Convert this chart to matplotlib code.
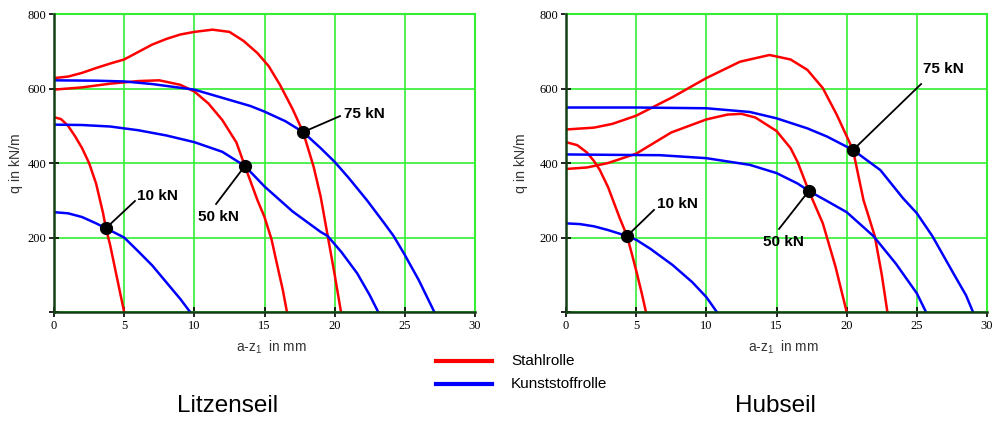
import matplotlib.pyplot as plt

plt.rcParams['font.family'] = ['Liberation Sans', 'DejaVu Sans']
plt.rcParams['mathtext.fontset'] = 'custom'
plt.rcParams['mathtext.rm'] = 'Liberation Sans'

# ---- Litzenseil: Stahlrolle (rot)
litz_st10_x = [0, 0.5, 1, 1.5, 2, 2.5, 3, 3.5, 3.7, 4, 4.5, 5]
litz_st10_q = [523, 518, 500, 472, 440, 400, 345, 265, 225, 180, 90, 0]
litz_st50_x = [0, 2, 4, 6, 7.5, 9, 10, 11, 12, 13, 13.6, 14.5, 15, 15.5, 16, 16.3, 16.6]
litz_st50_q = [597, 603, 613, 620, 622, 610, 592, 560, 515, 455, 392, 300, 255, 195, 110, 60, 0]
litz_st75_x = [0, 1, 2, 3, 4, 5, 6, 7, 8, 9, 10, 11.3, 12.5, 13.5, 14.5, 15.3, 16.1, 17, 17.75,
               18.5, 19, 19.5, 20, 20.45]
litz_st75_q = [628, 632, 642, 655, 667, 678, 698, 718, 733, 745, 752, 758, 752, 728, 695, 660, 610,
               545, 483, 390, 310, 205, 100, 0]
# ---- Litzenseil: Kunststoffrolle (blau)
litz_ku10_x = [0, 1, 2, 3, 3.7, 5, 6, 7, 8, 9, 9.7]
litz_ku10_q = [268, 265, 255, 238, 225, 200, 163, 125, 80, 35, 0]
litz_ku50_x = [0, 2, 4, 6, 8, 10, 12, 13.6, 15, 17, 19, 19.5, 20.5, 21.6, 22.5, 23.1]
litz_ku50_q = [503, 502, 498, 488, 474, 456, 430, 392, 337, 270, 215, 204, 160, 104, 45, 0]
litz_ku75_x = [0, 3, 5, 7, 10, 12, 14, 15, 16.5, 17.75, 19, 20, 21, 22.3, 23.5, 24.2, 25, 26, 27.1]
litz_ku75_q = [622, 621, 619, 612, 597, 575, 553, 538, 512, 483, 440, 403, 360, 300, 240, 204,
               153, 85, 0]

# ---- Hubseil: Stahlrolle
hub_st10_x = [0, 0.8, 1.5, 2, 2.4, 3, 3.35, 3.8, 4.35, 4.7, 5.05, 5.4, 5.7]
hub_st10_q = [456, 448, 428, 405, 382, 335, 300, 255, 204, 155, 104, 50, 0]
hub_st50_x = [0, 1.5, 3, 5, 7.5, 10, 11.5, 12.5, 13.5, 15, 16, 16.5, 17.3, 18.3, 19.2, 20]
hub_st50_q = [384, 388, 400, 425, 482, 517, 530, 532, 522, 486, 440, 403, 325, 238, 122, 0]
hub_st75_x = [0, 2, 3.3, 5, 7.6, 10, 12.4, 14.5, 16, 17.2, 18.3, 19.3, 20.45, 21.2, 22, 22.5, 22.9]
hub_st75_q = [490, 495, 505, 527, 577, 628, 672, 690, 678, 650, 601, 529, 435, 300, 204, 100, 0]
# ---- Hubseil: Kunststoffrolle
hub_ku10_x = [0, 1, 2, 3, 4.35, 5, 6, 7.6, 9, 10, 10.75]
hub_ku10_q = [238, 236, 230, 220, 204, 194, 170, 126, 80, 40, 0]
hub_ku50_x = [0, 3, 6.7, 10, 13.1, 15, 16.5, 17.3, 18.5, 20, 21.9, 23.5, 25, 25.65]
hub_ku50_q = [423, 422, 421, 413, 395, 373, 345, 325, 300, 268, 204, 130, 50, 0]
hub_ku75_x = [0, 5, 10, 13.1, 15, 17.2, 18.6, 20.45, 22.4, 24, 25, 26.1, 27.6, 28.5, 29]
hub_ku75_q = [549, 549, 547, 537, 520, 493, 471, 435, 381, 306, 265, 204, 104, 45, 0]

# Schnittpunkte (Markierungen) und Lastbeschriftungen
loads = ['10 kN', '50 kN', '75 kN']
litz_pt_x = [3.7, 13.6, 17.75]
litz_pt_q = [225, 392, 483]
hub_pt_x = [4.35, 17.3, 20.45]
hub_pt_q = [204, 325, 435]
# Ende der Hinweislinie und Textposition
litz_lead = [(5.77, 298), (11.55, 290), (20.38, 526)]
litz_txt = [(5.91, 311), (10.26, 254), (20.67, 532)]
hub_lead = [(6.27, 274), (15.18, 223), (25.3, 612)]
hub_txt = [(6.49, 290), (14.04, 187), (25.45, 652)]

red = '#ff0000'
blue = '#0000ff'
green = '#33ee33'

fig = plt.figure(figsize=(9.94, 4.21), dpi=100)
ax1 = fig.add_axes([0.0543, 0.2589, 0.4236, 0.7078])
ax2 = fig.add_axes([0.5694, 0.2589, 0.4236, 0.7078])


def setup(ax, ylab_x):
    ax.set_xlim(0, 30)
    ax.set_ylim(0, 800)
    ax.set_xticks(range(0, 31, 5))
    ax.set_yticks([0, 200, 400, 600, 800])
    ax.set_yticklabels(['', '200', '400', '600', '800'])
    ax.grid(True, color=green, lw=1.2)
    ax.set_axisbelow(True)
    for s in ['top', 'right']:
        ax.spines[s].set_color(green)
        ax.spines[s].set_linewidth(1.5)
    for s in ['left', 'bottom']:
        ax.spines[s].set_color('#124012')
        ax.spines[s].set_linewidth(1.8)
        ax.spines[s].set_zorder(4)
    ax.tick_params(direction='inout', length=7, width=1.2, color='black', pad=2)
    for lab in ax.get_xticklabels() + ax.get_yticklabels():
        lab.set_family('Liberation Serif')
        lab.set_fontsize(9)
    ax.set_xlabel(r'a-z$_1$  in mm', fontsize=9.8, color='#333333')
    ax.xaxis.set_label_coords(0.515, -0.088)
    ax.set_ylabel('q in kN/m', fontsize=10.2, color='#333333')
    ax.yaxis.set_label_coords(ylab_x, 0.5)


setup(ax1, -0.074)
setup(ax2, -0.09)

ax1.plot(litz_st10_x, litz_st10_q, color=red, lw=1.8)
ax1.plot(litz_st50_x, litz_st50_q, color=red, lw=1.8)
ax1.plot(litz_st75_x, litz_st75_q, color=red, lw=1.8)
ax1.plot(litz_ku10_x, litz_ku10_q, color=blue, lw=1.8)
ax1.plot(litz_ku50_x, litz_ku50_q, color=blue, lw=1.8)
ax1.plot(litz_ku75_x, litz_ku75_q, color=blue, lw=1.8)

ax2.plot(hub_st10_x, hub_st10_q, color=red, lw=1.8)
ax2.plot(hub_st50_x, hub_st50_q, color=red, lw=1.8)
ax2.plot(hub_st75_x, hub_st75_q, color=red, lw=1.8)
ax2.plot(hub_ku10_x, hub_ku10_q, color=blue, lw=1.8)
ax2.plot(hub_ku50_x, hub_ku50_q, color=blue, lw=1.8)
ax2.plot(hub_ku75_x, hub_ku75_q, color=blue, lw=1.8)

for ax, px, pq, lead, txt in [(ax1, litz_pt_x, litz_pt_q, litz_lead, litz_txt),
                              (ax2, hub_pt_x, hub_pt_q, hub_lead, hub_txt)]:
    for i in range(3):
        ax.plot([px[i], lead[i][0]], [pq[i], lead[i][1]], color='black', lw=1.3, zorder=5)
        ax.plot(px[i], pq[i], 'o', color='black', ms=8.5, zorder=6)
        ax.text(txt[i][0], txt[i][1], loads[i], fontsize=11, fontweight='bold',
                ha='left', va='center', zorder=6)

# Legende
fig.lines.append(plt.Line2D([436 / 994, 492 / 994], [1 - 361 / 421] * 2, color=red, lw=3,
                            transform=fig.transFigure))
fig.lines.append(plt.Line2D([436 / 994, 492 / 994], [1 - 384 / 421] * 2, color=blue, lw=3,
                            transform=fig.transFigure))
fig.text(511 / 994, 1 - 361 / 421, 'Stahlrolle', fontsize=11, va='center')
fig.text(511 / 994, 1 - 384 / 421, 'Kunststoffrolle', fontsize=11, va='center')

fig.text(228 / 994, 1 - 406 / 421, 'Litzenseil', fontsize=17.5, ha='center', va='center')
fig.text(775 / 994, 1 - 406 / 421, 'Hubseil', fontsize=17.5, ha='center', va='center')

fig.savefig('out.png', dpi=100)
